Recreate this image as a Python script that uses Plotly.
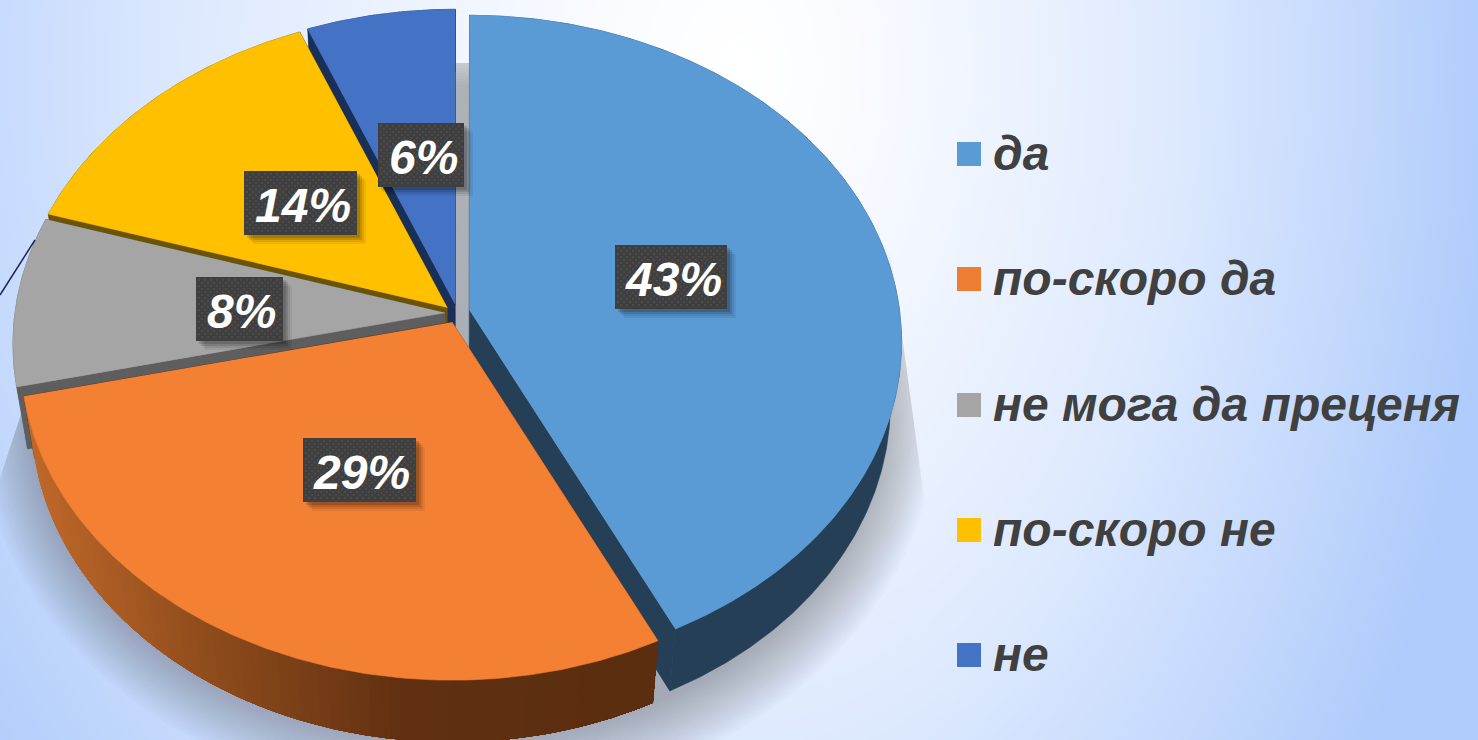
import numpy as np
import plotly.graph_objects as go

# ---------- data ----------
categories = ["да", "по-скоро да", "не мога да преценя", "по-скоро не", "не"]
values = [42.8, 28.6, 8.4, 14.1, 6.1]
top_colors = ["#5B9BD5", "#F38033", "#A5A5A5", "#FFC000", "#4472C4"]
wall_colors = ["#243F56", "#5C2E10", "#5E5E5E", "#6B5300", "#1A2F57"]
legend_colors = ["#5B9BD5", "#ED7D31", "#A5A5A5", "#FFC000", "#4472C4"]
# how far each slice is pulled out of the pie (share of the radius), plus small pixel nudges
explode = [0.037, 0.021, 0.021, 0.021, 0.021]
nudge_x = [0, 2, 0, 0, 3]
nudge_y = [0, 3, 0, -1, -2]

# ---------- pie geometry (drawn in pixel-like data units) ----------
CX, CY = 454.0, 313.0
RX, RY, K = 430.0, 323.5, 0.0965
DEPTH, BASE_SCALE = 62.0, 0.975
W, H = 1478, 740


def rim(theta):
    u, v = np.sin(theta), np.cos(theta)
    d = 1 + K * v
    return RX * u / d, -RY * v / d


def base(x, y):
    return CX + (np.asarray(x) - CX) * BASE_SCALE, np.asarray(y) + DEPTH


cum = np.cumsum([0] + values) / sum(values) * 2 * np.pi
slices = []
for i in range(len(values)):
    a0, a1 = cum[i], cum[i + 1]
    mid = (a0 + a1) / 2
    ox = CX + np.sin(mid) * explode[i] * RX + nudge_x[i]
    oy = CY - np.cos(mid) * explode[i] * RY + nudge_y[i]
    th = np.linspace(a0, a1, max(8, int((a1 - a0) * 90)))
    rx, ry = rim(th)
    slices.append(dict(ox=ox, oy=oy, th=th, x=ox + rx, y=oy + ry))

fig = go.Figure()

# ---------- page background ----------
gx = np.linspace(0, W, 149)
gy = np.linspace(0, H, 75)
XX, YY = np.meshgrid(gx, gy)
DX = XX - 740
tx = np.where(DX < 0, DX / 960, DX / 760)
tt = np.clip(np.sqrt(tx ** 2 + ((YY - 70) / 1200) ** 2), 0, 1)
fig.add_trace(go.Heatmap(
    x=gx, y=gy, z=tt ** 1.25, zmin=0, zmax=1, zsmooth="best", showscale=False, hoverinfo="skip",
    colorscale=[[0, "#FFFFFF"], [0.5, "#DDE9FE"], [1, "#AECBFB"]],
))

# ---------- soft shadow ----------
sth = np.linspace(0, 2 * np.pi, 240)
for grow in np.linspace(58, 2, 20):
    sx, sy = rim(sth)
    px = CX + 4 + sx * (1 + grow / RX) * BASE_SCALE
    py = CY + 6 + DEPTH + sy * (1 + grow / RY)
    py = np.maximum(py, 63)
    left = 137 - (py - 63) * 0.33
    right = 865 + (py - 63) * 0.136
    px = np.clip(px, left, right)
    fig.add_trace(go.Scatter(x=px, y=py, mode="lines", fill="toself", line=dict(width=0),
                             fillcolor="rgba(95,98,105,0.024)", hoverinfo="skip", showlegend=False))


def poly(x, y, color, lw=0.6):
    fig.add_trace(go.Scatter(x=x, y=y, mode="lines", fill="toself", fillcolor=color,
                             line=dict(color=color, width=lw), hoverinfo="skip", showlegend=False))


def orange_shade(px):
    stops_x = [25, 200, 400, 700]
    r = np.interp(px, stops_x, [192, 143, 96, 90])
    g = np.interp(px, stops_x, [104, 76, 48, 45])
    b = np.interp(px, stops_x, [42, 28, 17, 16])
    return f"rgb({r:.0f},{g:.0f},{b:.0f})"


# ---------- slices, back to front ----------
for i in [0, 4, 3, 2, 1]:
    s = slices[i]
    bx, by = base(s["x"], s["y"])
    ax, ay = base(s["ox"], s["oy"])
    # cut faces
    poly([s["ox"], s["x"][0], bx[0], ax], [s["oy"], s["y"][0], by[0], ay], wall_colors[i])
    poly([s["ox"], s["x"][-1], bx[-1], ax], [s["oy"], s["y"][-1], by[-1], ay], wall_colors[i])
    # outer wall
    if i == 1:
        # painted from the far end backwards; every band reaches the slice start, so no seams
        n = len(s["x"])
        for j in range(n - 1, 0, -2):
            poly(np.r_[s["x"][:j + 1], bx[:j + 1][::-1]], np.r_[s["y"][:j + 1], by[:j + 1][::-1]],
                 orange_shade(s["x"][j]), lw=0)
    else:
        poly(np.r_[s["x"], bx[::-1]], np.r_[s["y"], by[::-1]], wall_colors[i])
    # top face
    poly(np.r_[s["ox"], s["x"]], np.r_[s["oy"], s["y"]], top_colors[i])

# ---------- legend ----------
LEG_Y = [154, 279, 405, 530, 655]
LEG_TEXT_DY = 4
fig.add_trace(go.Scatter(
    x=[969] * 5, y=LEG_Y, mode="markers", hoverinfo="skip", showlegend=False,
    marker=dict(symbol="square", size=24, color=legend_colors, line=dict(width=0)),
))
fig.add_trace(go.Scatter(
    x=[993] * 5, y=[v + LEG_TEXT_DY for v in LEG_Y], mode="text", text=categories, textposition="middle right",
    hoverinfo="skip", showlegend=False,
    textfont=dict(family="Liberation Sans", size=48, color="#404040", weight="bold", style="italic"),
))

# ---------- data labels ----------
LABEL_X = [671, 359.5, 239.5, 300.5, 421]
LABEL_Y = [277, 470, 309, 203, 155]
LABEL_W = [112, 113, 87, 113, 86]
LABEL_H = 64
shapes = [dict(type="line", xref="x", yref="y", x0=0, y0=295, x1=35, y1=240,
               line=dict(color="#1F2357", width=1.5), layer="above")]
annotations = []
dot_x, dot_y = [], []
for v, lx, ly, lw in zip(values, LABEL_X, LABEL_Y, LABEL_W):
    x0, x1, y0, y1 = lx - lw / 2, lx + lw / 2, ly - LABEL_H / 2, ly + LABEL_H / 2
    for g, a in [(9, 0.06), (7, 0.08), (5, 0.12), (3, 0.14)]:
        poly([x0 + g, x1 + g, x1 + g, x0 + g], [y0 + g, y0 + g, y1 + g, y1 + g], f"rgba(0,0,0,{a})", lw=0)
    poly([x0, x1, x1, x0], [y0, y0, y1, y1], "#3F3F3F", lw=0)
    for r, yy in enumerate(np.arange(y0 + 3, y1 - 1, 3)):
        for xx in np.arange(x0 + 3 + (r % 2) * 3, x1 - 1, 6):
            dot_x.append(xx)
            dot_y.append(yy)
    annotations.append(dict(
        x=lx + 2, y=ly + 2, xref="x", yref="y", text=f"<b><i>{round(v)}%</i></b>", showarrow=False,
        align="center", borderpad=0,
        font=dict(family="Liberation Sans", size=48, color="#FFFFFF"),
    ))
fig.add_trace(go.Scatter(x=dot_x, y=dot_y, mode="markers", hoverinfo="skip", showlegend=False,
                         marker=dict(symbol="square", size=1.5, color="#565656", line=dict(width=0))))

fig.update_layout(
    width=W, height=H, margin=dict(l=0, r=0, t=0, b=0), showlegend=False,
    paper_bgcolor="#FFFFFF", plot_bgcolor="#FFFFFF",
    xaxis=dict(range=[0, W], visible=False, fixedrange=True),
    yaxis=dict(range=[H, 0], visible=False, fixedrange=True),
    shapes=shapes, annotations=annotations,
)
fig.write_html("out.html", config=dict(displayModeBar=False),
               post_script="document.body.style.margin='0';document.documentElement.style.overflow='hidden';")
